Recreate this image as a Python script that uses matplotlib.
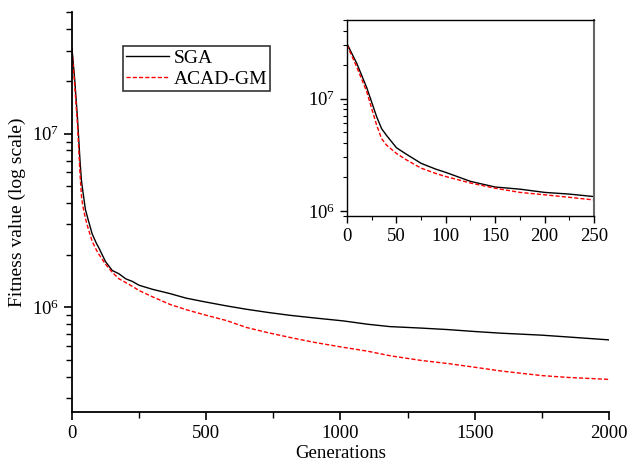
import matplotlib
matplotlib.use("Agg")
import matplotlib.pyplot as plt
from matplotlib.ticker import LogLocator, MultipleLocator, NullFormatter, FixedLocator

plt.rcParams['font.family'] = ['Liberation Serif', 'DejaVu Serif']
plt.rcParams['mathtext.fontset'] = 'custom'
plt.rcParams['mathtext.rm'] = 'Liberation Serif'

gens = [0, 10, 20, 30, 35, 40, 50, 60, 75, 90, 100, 125, 150, 175, 200, 225, 250,
        300, 365, 425, 489, 575, 650, 730, 812, 900, 1010, 1100, 1184, 1300, 1400,
        1501, 1600, 1749, 1850, 2000]
sga = [3.08e7, 2.05e7, 1.25e7, 6.9e6, 5.4e6, 4.7e6, 3.65e6, 3.2e6, 2.65e6, 2.35e6,
       2.2e6, 1.83e6, 1.63e6, 1.56e6, 1.46e6, 1.41e6, 1.34e6,
       1.27e6, 1.2e6, 1.13e6, 1.08e6, 1.02e6, 9.75e5, 9.35e5, 9.0e5, 8.7e5, 8.36e5,
       8.0e5, 7.75e5, 7.6e5, 7.45e5, 7.26e5, 7.1e5, 6.92e5, 6.75e5, 6.5e5]
acad = [3.0e7, 1.9e7, 1.15e7, 5.8e6, 4.4e6, 3.85e6, 3.25e6, 2.85e6, 2.4e6, 2.15e6,
        2.02e6, 1.77e6, 1.59e6, 1.46e6, 1.39e6, 1.32e6, 1.25e6,
        1.15e6, 1.04e6, 9.7e5, 9.1e5, 8.4e5, 7.66e5, 7.15e5, 6.71e5, 6.3e5, 5.89e5,
        5.6e5, 5.27e5, 4.95e5, 4.75e5, 4.52e5, 4.3e5, 4.05e5, 3.95e5, 3.85e5]

main_xticks = [0, 500, 1000, 1500, 2000]
inset_xticks = [0, 50, 100, 150, 200, 250]

fig = plt.figure(figsize=(6.39, 4.67), dpi=100)
ax = fig.add_axes([0.1127, 0.1178, 0.8403, 0.8562])
ax.plot(gens, sga, color='black', lw=1.0, label='SGA')
ax.plot(gens, acad, color='red', lw=1.0, ls=(0, (3, 1.5)), label='ACAD-GM')
ax.set_yscale('log')
ax.set_xlim(0, 2000)
ax.set_ylim(2.5e5, 5e7)
ax.set_xticks(main_xticks)
ax.xaxis.set_minor_locator(MultipleLocator(250))
ax.yaxis.set_major_locator(FixedLocator([1e6, 1e7]))
ax.yaxis.set_minor_locator(LogLocator(base=10, subs=range(2, 10)))
ax.yaxis.set_minor_formatter(NullFormatter())
for s in ['top', 'right']:
    ax.spines[s].set_visible(False)
for s in ['left', 'bottom']:
    ax.spines[s].set_linewidth(1.3)
ax.tick_params(which='major', direction='out', length=6, width=1.2, labelsize=13.5)
ax.tick_params(which='minor', direction='out', length=4, width=1.0)
ax.set_xlabel('Generations', fontsize=13.5, labelpad=2)
ax.set_ylabel('Fitness value (log scale)', fontsize=14, labelpad=4)
leg = ax.legend(loc='upper left', bbox_to_anchor=(0.095, 0.915), fontsize=14,
                frameon=True, fancybox=False, edgecolor='black', handlelength=2.2,
                handletextpad=0.25, borderpad=0.15, labelspacing=0.2, borderaxespad=0)
leg.get_frame().set_linewidth(1.2)

# inset
n = gens.index(250) + 1
axi = fig.add_axes([0.543, 0.5375, 0.3866, 0.4195])
axi.plot(gens[:n], sga[:n], color='black', lw=1.0)
axi.plot(gens[:n], acad[:n], color='red', lw=1.0, ls=(0, (3, 1.5)))
axi.set_yscale('log')
axi.set_xlim(0, 250)
axi.set_ylim(9e5, 5e7)
axi.set_xticks(inset_xticks)
axi.xaxis.set_minor_locator(MultipleLocator(25))
axi.yaxis.set_major_locator(FixedLocator([1e6, 1e7]))
axi.yaxis.set_minor_locator(LogLocator(base=10, subs=range(2, 10)))
axi.yaxis.set_minor_formatter(NullFormatter())
for s in axi.spines.values():
    s.set_linewidth(1.0)
axi.spines['right'].set_color('#666666')
axi.spines['right'].set_linewidth(1.5)
axi.tick_params(which='major', direction='out', length=5, width=1.0, labelsize=13.5)
axi.tick_params(which='minor', direction='out', length=3, width=0.8)

fig.savefig('out.png', dpi=100)
